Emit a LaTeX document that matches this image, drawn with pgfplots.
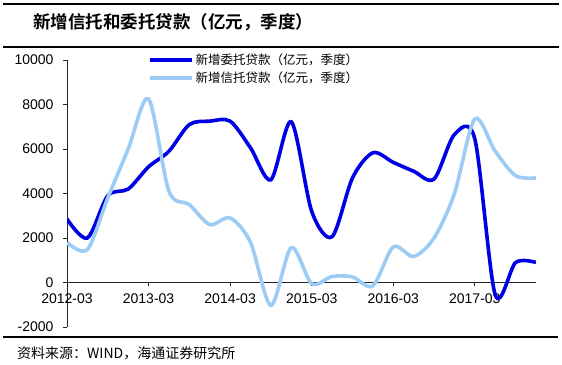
\documentclass[border=0pt]{standalone}
\usepackage{pgfplots}
\pgfplotsset{compat=1.18}
\usepackage{fontspec}
\setmainfont{Liberation Sans}
\newfontfamily\cjk{Noto Sans CJK SC}[BoldFont={* Bold}]
\definecolor{dk}{RGB}{0,0,228}
\definecolor{lt}{RGB}{156,203,245}
\begin{document}
\begin{tikzpicture}
\path[use as bounding box] (0,0) rectangle (562bp,365bp);
\draw[line width=2.2bp] (3bp,361bp) -- (559bp,361bp);
\draw[line width=2bp] (3bp,318bp) -- (559bp,318bp);
\draw[line width=2bp] (3bp,28bp) -- (558bp,28bp);
\node[anchor=west,inner sep=0pt] at (33bp,343bp) {\cjk\bfseries\fontsize{17.5bp}{20bp}\selectfont 新增信托和委托贷款（亿元，季度）};
\node[anchor=west,inner sep=0pt] at (17bp,12bp) {\cjk\fontsize{14bp}{16bp}\selectfont 资料来源：WIND，海通证券研究所};
\begin{axis}[
  at={(67bp,38bp)}, anchor=south west,
  scale only axis, width=469bp, height=267bp,
  xmin=0, xmax=23, ymin=-2000, ymax=10000,
  axis y line=left, axis x line=middle,
  hide obscured x ticks=false,
  scaled y ticks=false,
  axis line style={-, line width=0.8bp, color=black!85},
  xtick={0,4,8,12,16,20},
  xticklabels={2012-03,2013-03,2014-03,2015-03,2016-03,2017-03},
  ytick={-2000,0,2000,4000,6000,8000,10000},
  yticklabels={-2000,0,2000,4000,6000,8000,10000},
  tick style={black!85, line width=0.8bp},
  major tick length=4bp,
  tick align=outside,
  ticklabel style={font=\fontsize{14bp}{16bp}\selectfont},
  xticklabel style={yshift=-4bp},
  yticklabel style={xshift=-6bp},
  legend style={at={(0.17,1.035)}, anchor=north west, draw=none, fill=none,
    font=\cjk\fontsize{12.5bp}{15bp}\selectfont, row sep=2bp, inner sep=1bp},
  legend cell align=left,
  legend image code/.code={\draw[#1] (0bp,0bp) -- (42bp,0bp);},
]
\addplot[dk, line width=3.6bp, smooth, tension=0.5] coordinates {
(0,2850)(1,2000)(2,3900)(3,4200)(4,5200)(5,5900)(6,7100)(7,7250)(8,7250)(9,6050)
(10,4620)(11,7220)(12,3200)(13,2060)(14,4700)(15,5830)(16,5400)(17,5000)(18,4650)
(19,6650)(20,6450)(21,-550)(22,900)(23,900)};
\addlegendentry{新增委托贷款（亿元，季度）}
\addplot[lt, line width=3.6bp, smooth, tension=0.5] coordinates {
(0,1800)(1,1480)(2,3800)(3,6000)(4,8250)(5,4100)(6,3500)(7,2600)(8,2900)(9,1800)
(10,-1030)(11,1570)(12,-50)(13,270)(14,250)(15,-150)(16,1600)(17,1170)(18,2000)
(19,4000)(20,7350)(21,5900)(22,4800)(23,4700)};
\addlegendentry{新增信托贷款（亿元，季度）}
\end{axis}
\end{tikzpicture}
\end{document}
